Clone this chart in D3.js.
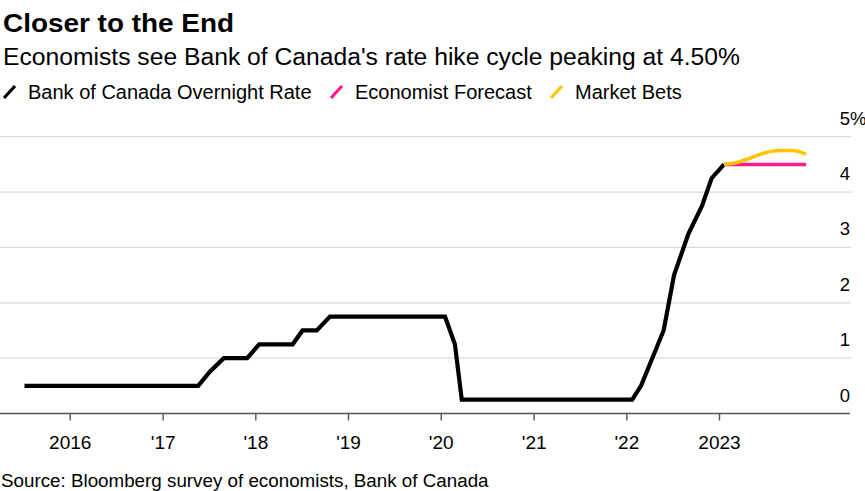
<!DOCTYPE html>
<html><head><meta charset="utf-8">
<script src="https://cdn.jsdelivr.net/npm/d3@7"></script>
<style>
body{margin:0;background:#fff}
svg{display:block}
text{font-family:"Liberation Sans",Arial,Helvetica,sans-serif;fill:#000}
</style>
</head><body>
<svg id="chart" width="865" height="491"></svg>
<script>
// ---------- data ----------
const bocDates = ["2015-07-07","2017-05-21","2017-07-05","2017-08-30","2017-11-30","2018-01-16",
  "2018-05-28","2018-07-06","2018-08-31","2018-10-22","2020-01-18","2020-02-26","2020-03-24",
  "2022-01-24","2022-02-28","2022-05-28","2022-07-08","2022-09-03","2022-10-26","2022-12-03","2023-01-21"];
const bocRates = [0.5,0.5,0.75,1.0,1.0,1.25,1.25,1.5,1.5,1.75,1.75,1.25,0.25,
  0.25,0.5,1.5,2.5,3.25,3.75,4.25,4.5];
const forecastDates = ["2023-01-21","2023-12-10"];
const forecastRates = [4.5,4.5];
const marketDates = ["2023-01-21","2023-02-27","2023-05-03","2023-07-08","2023-08-29","2023-10-18","2023-12-10"];
const marketRates = [4.5,4.52,4.61,4.72,4.75,4.75,4.68];
const yearTicks = [2016,2017,2018,2019,2020,2021,2022,2023];
const yearLabels = ["2016","'17","'18","'19","'20","'21","'22","2023"];
const rateTicks = [0,1,2,3,4,5];
const rateLabels = ["0","1","2","3","4","5"];
const seriesNames = ["Bank of Canada Overnight Rate","Economist Forecast","Market Bets"];
const seriesColors = ["#000000","#fc1a8c","#ffc400"];

// ---------- setup ----------
const svg = d3.select("#chart");
const parse = d3.utcParse("%Y-%m-%d");
const x = d3.scaleUtc().domain([Date.UTC(2016,0,1), Date.UTC(2023,0,1)]).range([69.7, 719]);
const y = d3.scaleLinear().domain([0,5]).range([413.5, 136.7]);
const plotLeft = 0, plotRight = 850;

// titles
svg.append("text").attr("x",3).attr("y",31.5).attr("font-size",26).attr("font-weight","bold")
  .attr("textLength",231).attr("lengthAdjust","spacingAndGlyphs").text("Closer to the End");
svg.append("text").attr("x",3).attr("y",65).attr("font-size",23)
  .attr("textLength",737).attr("lengthAdjust","spacingAndGlyphs")
  .text("Economists see Bank of Canada's rate hike cycle peaking at 4.50%");

// legend
const legX = [4, 331, 551];
const legTX = [28, 355, 575];
const leg = svg.append("g").selectAll("g").data(seriesNames).join("g");
leg.append("line").attr("x1",(d,i)=>legX[i]).attr("y1",98).attr("x2",(d,i)=>legX[i]+11).attr("y2",86)
  .attr("stroke",(d,i)=>seriesColors[i]).attr("stroke-width",3.2);
leg.append("text").attr("x",(d,i)=>legTX[i]).attr("y",99).attr("font-size",20).text(d=>d);

// gridlines (y)
svg.append("g").selectAll("line").data(rateTicks.filter(v=>v>0)).join("line")
  .attr("x1",plotLeft).attr("x2",plotRight+1).attr("y1",d=>y(d)).attr("y2",d=>y(d))
  .attr("stroke","#dadada").attr("stroke-width",1.3);

// y labels
svg.append("g").selectAll("text").data(rateTicks).join("text")
  .attr("x",plotRight).attr("y",d=>y(d)-12).attr("text-anchor","end").attr("font-size",18.5)
  .text((d,i)=>rateLabels[i]);
svg.append("text").attr("x",plotRight).attr("y",y(5)-12).attr("font-size",18.5).text("%");

// x axis
const xAxis = d3.axisBottom(x)
  .tickValues(yearTicks.map(yr=>new Date(Date.UTC(yr,0,1))))
  .tickSize(7).tickSizeOuter(0).tickPadding(12)
  .tickFormat((d,i)=>yearLabels[i]);
const gx = svg.append("g").attr("transform",`translate(0,${y(0)})`).call(xAxis);
gx.select(".domain").remove();
gx.selectAll(".tick line").attr("stroke","#555").attr("stroke-width",1.4);
gx.selectAll(".tick text").attr("font-size",19).attr("fill","#000")
  .attr("font-family","'Liberation Sans',Arial,sans-serif").attr("dy",null).attr("y",35.5);
svg.append("line").attr("x1",plotLeft).attr("x2",plotRight).attr("y1",y(0)).attr("y2",y(0))
  .attr("stroke","#555").attr("stroke-width",1.5);

// lines
const line = d3.line().x(d=>x(d[0])).y(d=>y(d[1]));
const zip = (ds,vs)=>ds.map((d,i)=>[parse(d),vs[i]]);
svg.append("path").datum(zip(bocDates,bocRates)).attr("d",line)
  .attr("fill","none").attr("stroke",seriesColors[0]).attr("stroke-width",4.2);
svg.append("path").datum(zip(forecastDates,forecastRates)).attr("d",line)
  .attr("fill","none").attr("stroke",seriesColors[1]).attr("stroke-width",3.5);
svg.append("path").datum(zip(marketDates,marketRates)).attr("d",line.curve(d3.curveMonotoneX))
  .attr("fill","none").attr("stroke",seriesColors[2]).attr("stroke-width",3.5);

// source
svg.append("text").attr("x",1).attr("y",486.5).attr("font-size",18.8)
  .text("Source: Bloomberg survey of economists, Bank of Canada");
</script>
</body></html>
